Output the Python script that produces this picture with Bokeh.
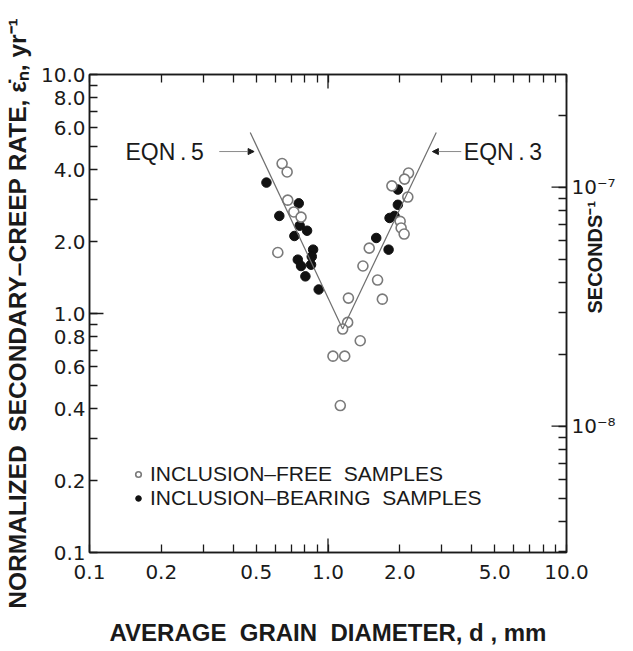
import math
from bokeh.plotting import figure
from bokeh.models import (Range1d, LogAxis, LogScale, FixedTicker, CustomJSTickFormatter,
                          Label, Arrow, NormalHead, Legend, LegendItem)
from bokeh.embed import file_html
from bokeh.resources import INLINE

# ---------------- data ----------------
free_d = [0.642, 0.674, 0.678, 0.719, 0.771, 0.616, 1.218, 1.209, 1.152, 1.365, 1.049, 1.175,
          1.126, 1.401, 1.614, 1.690, 1.489, 2.176, 2.094, 1.853, 2.161, 2.007, 2.026, 2.086]
free_rate = [4.24, 3.91, 2.98, 2.66, 2.53, 1.80, 1.16, 0.918, 0.861, 0.769, 0.663, 0.663,
             0.412, 1.58, 1.38, 1.148, 1.877, 3.87, 3.65, 3.42, 3.07, 2.43, 2.28, 2.15]
bearing_d = [0.552, 0.754, 0.625, 0.761, 0.817, 0.723, 0.866, 0.855, 0.747, 0.771, 0.849,
             0.804, 0.914, 1.963, 1.963, 1.812, 1.901, 1.593, 1.795]
bearing_rate = [3.53, 2.89, 2.56, 2.33, 2.22, 2.11, 1.85, 1.73, 1.68, 1.58, 1.60,
                1.43, 1.26, 3.30, 2.85, 2.51, 2.56, 2.07, 1.85]

eqn5_d = [0.472, 1.152]
eqn5_rate = [5.72, 0.861]
eqn3_d = [1.152, 2.844]
eqn3_rate = [0.861, 5.72]

eqn5_label = "EQN\u2009.\u20095"
eqn3_label = "EQN\u2009.\u20093"
eqn_label_rate = 4.76
eqn5_label_d = 0.1415
eqn5_arrow_d = [0.35, 0.49]
eqn3_label_d = 3.71
eqn3_arrow_d = [3.62, 2.74]

x_major = [0.1, 0.2, 0.5, 1, 2, 5, 10]
x_major_labels = ["0.1", "0.2", "0.5", "1.0", "2.0", "5.0", "10.0"]
x_minor = [0.3, 0.4, 0.6, 0.7, 0.8, 0.9, 3, 4, 6, 7, 8, 9]
y_major = [0.1, 0.2, 0.4, 0.6, 0.8, 1, 2, 4, 6, 8, 10]
y_major_labels = ["0.1", "0.2", "0.4", "0.6", "0.8", "1.0", "2.0", "4.0", "6.0", "8.0", "10.0"]
y_minor = [0.3, 0.5, 0.7, 0.9, 3, 5, 7, 9]
long_tick = 1.0

YR_TO_SEC = 2.96e-8   # 1 yr^-1 expressed in s^-1 as drawn on the right axis
sec_major = [1e-8, 1e-7]
sec_major_labels = ["10\u207b\u2078", "10\u207b\u2077"]
sec_minor = [3e-9, 4e-9, 5e-9, 6e-9, 7e-9, 8e-9, 9e-9,
             2e-8, 3e-8, 4e-8, 5e-8, 6e-8, 7e-8, 8e-8, 9e-8, 2e-7]

NB = "\u00a0"
x_title = "AVERAGE" + NB * 2 + "GRAIN" + NB * 2 + "DIAMETER," + NB + "d" + NB + "," + NB + "mm"
y_title = ("NORMALIZED" + NB * 2 + "SECONDARY\u2013CREEP" + NB + "RATE," + NB +
           "\u03b5\u0307\u2099," + NB + "yr\u207b\u00b9")
sec_title = "SECONDS\u207b\u00b9"
legend_free = "INCLUSION\u2013FREE" + NB * 2 + "SAMPLES"
legend_bearing = "INCLUSION\u2013BEARING" + NB * 2 + "SAMPLES"

# ---------------- figure ----------------
TXT = "Liberation Sans"
NUM = "DejaVu Sans"
INK = "#1a1a1a"
X0, X1, Y0, Y1 = 0.1, 10, 0.1, 10
FRAME_W, FRAME_H = 478, 478
BL, BR, BT, BB = 88, 55, 74, 97

p = figure(width=BL + FRAME_W + BR, height=BT + FRAME_H + BB, x_axis_type="log", y_axis_type="log",
           x_range=Range1d(X0, X1), y_range=Range1d(Y0, Y1),
           output_backend="svg", toolbar_location=None,
           min_border_left=BL, min_border_right=BR, min_border_top=BT, min_border_bottom=BB)
p.background_fill_color = "white"
p.border_fill_color = "white"
p.grid.visible = False
p.outline_line_color = INK
p.outline_line_width = 1.5

p.extra_y_ranges = {"sec": Range1d(Y0 * YR_TO_SEC, Y1 * YR_TO_SEC)}
p.extra_y_scales = {"sec": LogScale()}

FMT_CODE = """
const i = vals.findIndex(v => Math.abs(Math.log10(tick / v)) < 1e-6);
return i >= 0 ? txts[i] : "";
"""


def fmt(vals, txts):
    return CustomJSTickFormatter(args=dict(vals=vals, txts=txts), code=FMT_CODE)


def style(ax, ticks, length=8):
    ax.ticker = FixedTicker(ticks=sorted(ticks))
    ax.axis_line_color = INK
    ax.axis_line_width = 1.5
    ax.major_tick_line_color = INK
    ax.major_tick_line_width = 1.3
    ax.major_tick_in = length
    ax.major_tick_out = 0
    ax.minor_tick_line_color = None
    ax.major_label_text_font = NUM
    ax.major_label_text_font_size = "20px"
    ax.major_label_text_color = INK


xa = p.xaxis[0]
style(xa, x_major + x_minor)
xa.formatter = fmt(x_major, x_major_labels)
xa.major_label_standoff = 12
xa.axis_label = x_title
xa.axis_label_text_font = TXT
xa.axis_label_text_font_style = "bold"
xa.axis_label_text_font_size = "24px"
xa.axis_label_text_color = INK
xa.axis_label_standoff = 37

ya = p.yaxis[0]
style(ya, y_major + y_minor)
ya.formatter = fmt(y_major, y_major_labels)
ya.major_label_standoff = 4
ya.axis_label = y_title
ya.axis_label_text_font = TXT
ya.axis_label_text_font_style = "bold"
ya.axis_label_text_font_size = "24.5px"
ya.axis_label_text_color = INK
ya.axis_label_standoff = 7

top = LogAxis()
style(top, x_major + x_minor)
top.formatter = fmt([], [])
p.add_layout(top, "above")

right = LogAxis(y_range_name="sec")
style(right, sec_major + sec_minor)
right.formatter = fmt(sec_major, sec_major_labels)
right.major_label_standoff = 5
right.axis_label = sec_title
right.axis_label_text_font = TXT
right.axis_label_text_font_style = "bold"
right.axis_label_text_font_size = "20px"
right.axis_label_text_color = INK
right.axis_label_standoff = -24
right.axis_label_text_align = "right"
try:
    # read bottom-to-top, as in the original
    right.axis_label_orientation = math.pi / 2
except Exception:
    pass
p.add_layout(right, "right")

# longer ticks (1.0 on the year scale, decades on the seconds scale)
LONG = 10 ** (14 / (FRAME_H / 2))
LONG_R = 10 ** (15 / (FRAME_W / 2))
TICK = dict(line_color=INK, line_width=1.3)
p.segment(x0=[long_tick, long_tick], y0=[Y0, Y1], x1=[long_tick, long_tick],
          y1=[Y0 * LONG, Y1 / LONG], **TICK)
p.segment(x0=[X0], y0=[long_tick], x1=[X0 * LONG], y1=[long_tick], **TICK)
p.segment(x0=[X1] * len(sec_major), y0=sec_major, x1=[X1 / LONG_R] * len(sec_major),
          y1=sec_major, y_range_name="sec", **TICK)

# ---------------- data marks ----------------
r_bear = p.scatter(bearing_d, bearing_rate, marker="circle", size=9.5,
                   fill_color="#111111", line_color="#111111", line_width=1)
r_free = p.scatter(free_d, free_rate, marker="circle", size=10,
                   fill_color="white", line_color="#7a7a7a", line_width=1.6)
p.line(eqn5_d, eqn5_rate, line_color="#6e6e6e", line_width=1.2)
p.line(eqn3_d, eqn3_rate, line_color="#6e6e6e", line_width=1.2)

# equation labels and arrows
for txt, dx in [(eqn5_label, eqn5_label_d), (eqn3_label, eqn3_label_d)]:
    p.add_layout(Label(x=dx, y=eqn_label_rate, text=txt, text_font=TXT, text_font_size="23px",
                       text_color=INK, text_align="left", text_baseline="middle"))
for ad in [eqn5_arrow_d, eqn3_arrow_d]:
    p.add_layout(Arrow(end=NormalHead(size=6, fill_color=INK, line_color=INK),
                       x_start=ad[0], y_start=eqn_label_rate, x_end=ad[1], y_end=eqn_label_rate,
                       line_color="#8a8a8a", line_width=1))

# legend
legend = Legend(items=[LegendItem(label=legend_free, renderers=[r_free]),
                       LegendItem(label=legend_bearing, renderers=[r_bear])],
                location=(42, 42), glyph_width=14, glyph_height=20, label_standoff=5,
                spacing=0, padding=0, margin=0, border_line_color=None,
                background_fill_alpha=0, label_text_font=TXT, label_text_font_size="21px",
                label_text_color=INK)
p.add_layout(legend)

open("out.html", "w").write(file_html(p, INLINE))
